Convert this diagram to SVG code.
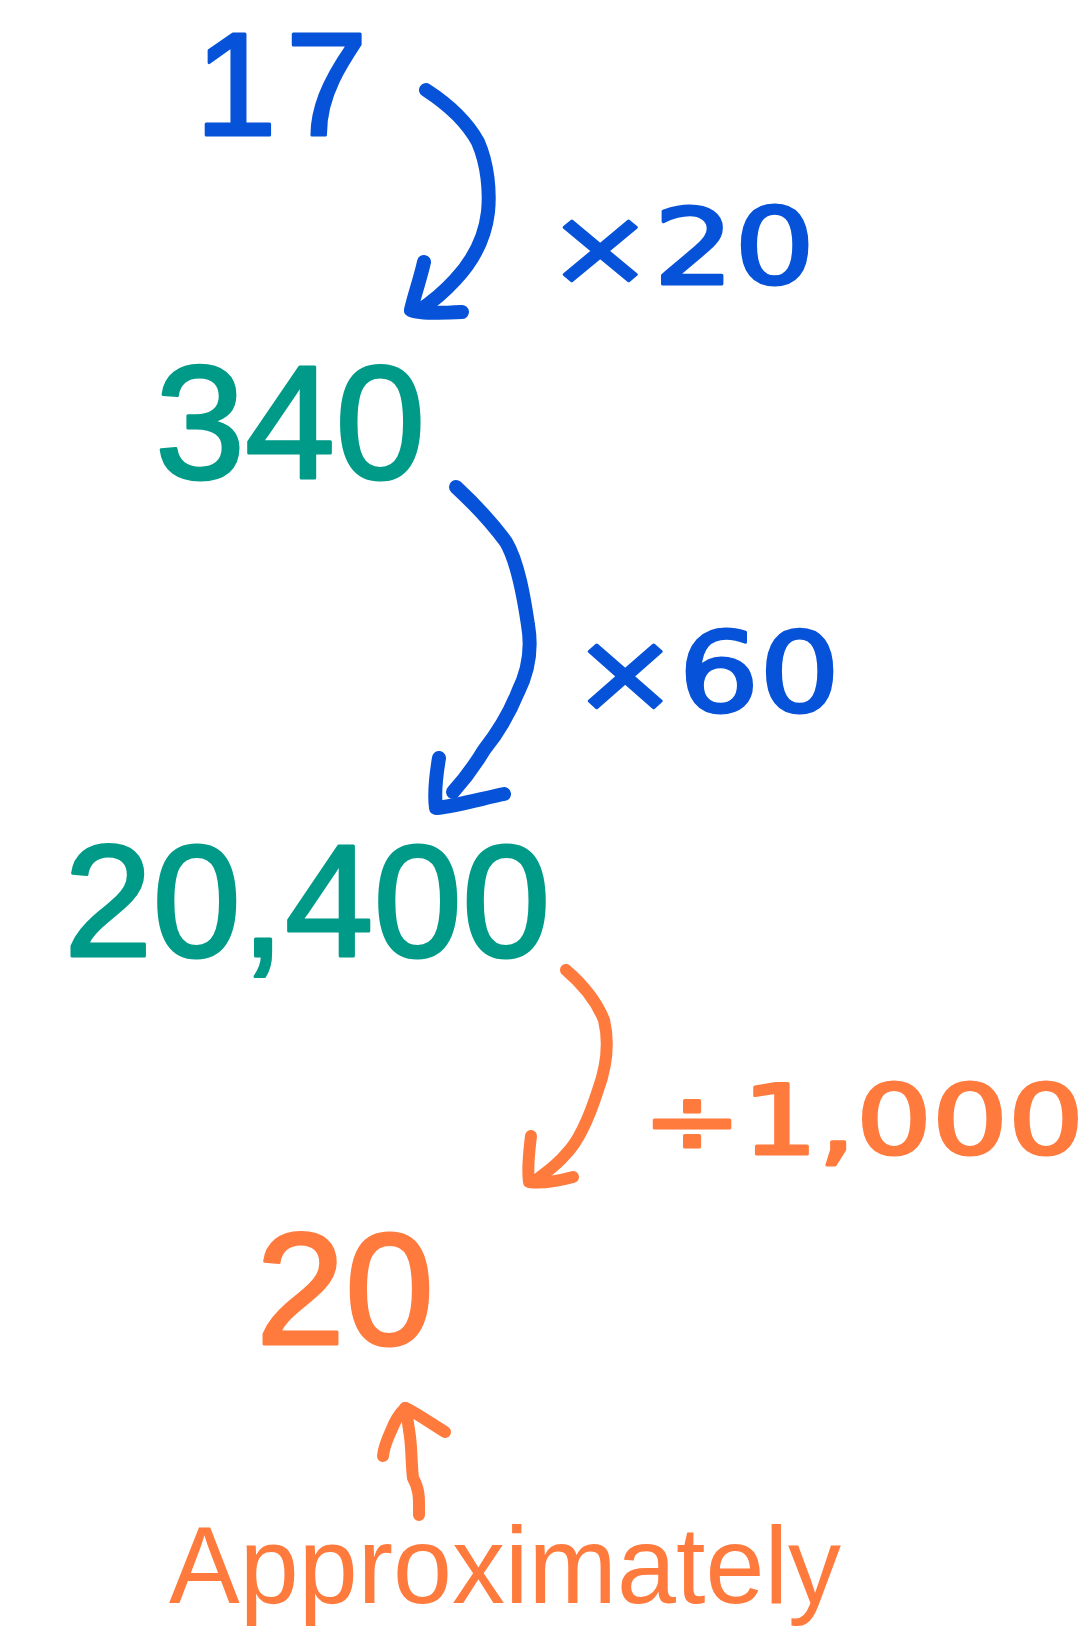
<svg xmlns="http://www.w3.org/2000/svg" width="1084" height="1632" viewBox="0 0 1084 1632">
  <style>
    .num { font-family: "Liberation Sans", Arial, Helvetica, sans-serif; stroke-width: 3; stroke-linejoin: round; }
    .blue { fill: #0652d8; stroke: #0652d8; }
    .teal { fill: #009a88; stroke: #009a88; }
    .orange { fill: #ff7a3d; stroke: #ff7a3d; }
    .label { font-family: "Liberation Sans", Arial, Helvetica, sans-serif; fill: #ff7a3d; }
    .hand { font-family: "DejaVu Sans", sans-serif; stroke-linejoin: round; stroke-linecap: round; }
    .hb { fill: #0652d8; stroke: #0652d8; stroke-width: 3; }
    .ho { fill: #ff7a3d; stroke: #ff7a3d; stroke-width: 3; }
    .stroke { fill: none; stroke-linecap: round; stroke-linejoin: round; }
    .sb { stroke: #0652d8; stroke-width: 14; }
    .so { stroke: #ff7a3d; stroke-width: 12; }
  </style>
  <rect width="1084" height="1632" fill="#ffffff"/>

  <g id="node-17">
    <text class="num blue" x="195" y="135" font-size="147" letter-spacing="9">17</text>
  </g>
  <g id="node-340">
    <text class="num teal" x="155" y="478" font-size="162">340</text>
  </g>
  <g id="node-20400">
    <text class="num teal" x="64" y="956" font-size="159">20,400</text>
  </g>
  <g id="node-20">
    <text class="num orange" x="256" y="1344" font-size="160">20</text>
  </g>
  <g id="node-approximately">
    <text class="label" x="169" y="1603" font-size="109" textLength="672" lengthAdjust="spacingAndGlyphs">Approximately</text>
  </g>

  <g id="connectors">
    <g id="edge-17-340">
      <path class="stroke sb" d="M426,90 C446,103 466,120 478,142 C488,165 490,192 488,212 C485,238 472,262 455,280 C444,292 432,302 420,310"/>
      <path class="stroke sb" d="M424,262 C420,280 414,296 411,310 C420,314 444,313 462,312"/>
      <text class="hand hb" x="547" y="284" font-size="106" textLength="268" lengthAdjust="spacingAndGlyphs">×20</text>
    </g>
    <g id="edge-340-20400">
      <path class="stroke sb" d="M456,487 C470,500 490,520 506,542 C518,562 524,598 528,625 C532,648 528,672 518,692 C510,712 500,730 484,750 C472,770 462,782 453,792"/>
      <path class="stroke sb" d="M439,758 C436,776 434,794 436,808 C456,806 484,798 504,794"/>
      <text class="hand hb" x="572" y="711" font-size="110" textLength="268" lengthAdjust="spacingAndGlyphs">×60</text>
    </g>
    <g id="edge-20400-20">
      <path class="stroke so" d="M566,970 C580,982 596,1000 604,1020 C610,1045 606,1068 598,1090 C590,1115 580,1140 566,1154 C556,1166 544,1174 536,1180"/>
      <path class="stroke so" d="M531,1136 C529,1152 527,1168 529,1182 C544,1184 562,1180 573,1177"/>
      <text class="hand ho" x="642" y="1154" font-size="96" textLength="442" lengthAdjust="spacingAndGlyphs">÷1,000</text>
    </g>
    <g id="edge-approx-20">
      <path class="stroke so" d="M419,1515 C419,1500 420,1490 413,1478 C411,1462 412,1445 409,1430 C408,1420 406,1414 405,1408"/>
      <path class="stroke so" d="M383,1456 C384,1444 390,1434 394,1424 C398,1416 402,1410 406,1408 C418,1414 432,1424 445,1432"/>
    </g>
  </g>
</svg>
